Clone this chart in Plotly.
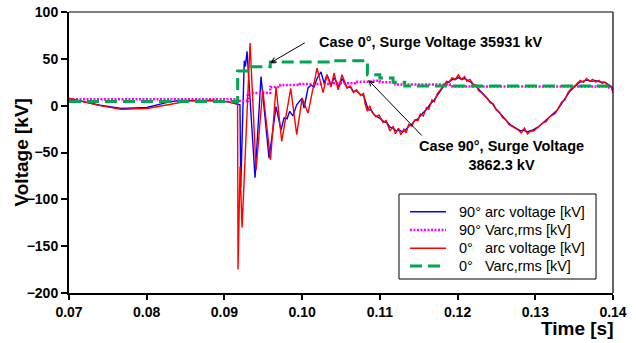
import plotly.graph_objects as go

# ---------------- data ----------------
t_red = [0.0700, 0.0720, 0.0740, 0.0767, 0.0800, 0.0831, 0.0853, 0.0887, 0.0905, 0.0915,
         0.09169, 0.09175, 0.09201, 0.09227, 0.09330, 0.09407, 0.09493, 0.09593, 0.09664,
         0.09737, 0.09853, 0.09930, 0.10000, 0.10076, 0.10192, 0.10269, 0.10320, 0.10372,
         0.10411, 0.10462, 0.10513, 0.10578,
         0.1062, 0.1066, 0.1070, 0.1075, 0.1079, 0.1081, 0.1084, 0.1087, 0.1090, 0.1095,
         0.1099, 0.1104, 0.1108, 0.1113, 0.1117, 0.1120, 0.1124, 0.1127, 0.1131, 0.1134,
         0.1137, 0.1141, 0.1145, 0.1149, 0.1152, 0.1156, 0.1160, 0.1163, 0.1167, 0.1170,
         0.1174, 0.1178, 0.1182, 0.1186, 0.1189, 0.1193, 0.1197, 0.1201, 0.1205, 0.1209,
         0.1212, 0.1216, 0.1220, 0.1224, 0.1227, 0.1231, 0.1235, 0.1238, 0.1242, 0.1246,
         0.1250, 0.1254, 0.1258, 0.1262, 0.1266, 0.1270, 0.1274, 0.1278, 0.1282, 0.1286,
         0.1290, 0.1294, 0.1298, 0.1302, 0.1306, 0.1310, 0.1314, 0.1318, 0.1322, 0.1326,
         0.1330, 0.1334, 0.1338, 0.1342, 0.1346, 0.1350, 0.1354, 0.1358, 0.1362, 0.1366,
         0.1370, 0.1374, 0.1378, 0.1382, 0.1386, 0.1390, 0.1394, 0.1398, 0.1400]
v_red = [8, 4, 0, -4, -3, 1.5, 5, 5.5, 4, 2,
         1.5, -175, -65, -130, 67, -69, 17, -58, 20,
         -38, 18.5, -31, 8, -8, 40, 14, 33, 20,
         35, 17, 33, 19,
         21, 14, 17, 11, 13, 2, -6, 0, -7, -12,
         -10, -18, -16, -27, -22, -30, -24, -31, -25, -29,
         -20, -22, -15, -16, -9, -11, -2, -4, 6, 4,
         13, 17, 21, 26, 25, 30, 28, 33, 28, 31,
         26, 28, 23, 22, 16, 14, 10, 8, 3, 2,
         -5, -7, -13, -15, -20, -22, -24, -26, -29, -24,
         -30, -27, -27, -24, -22, -18, -17, -12, -10, -8,
         -2, 4, 6, 14, 18, 20, 24, 27, 25, 29,
         26, 28, 25, 27, 24, 25, 21, 20, 14]

t_blue = [0.0700, 0.0720, 0.0740, 0.0767, 0.0800, 0.0824, 0.0840, 0.0887, 0.0905, 0.0915,
          0.0920, 0.09210, 0.09255, 0.09270, 0.09291, 0.09394, 0.09471, 0.09574, 0.09664,
          0.09728, 0.09767, 0.09806, 0.09840, 0.09880, 0.09930, 0.09999, 0.10024, 0.10076,
          0.10115, 0.10153, 0.10192, 0.10243, 0.10282, 0.10320, 0.10372, 0.10411, 0.10475,
          0.10513, 0.10578,
          0.1062, 0.1066, 0.1070, 0.1075, 0.1079, 0.1082, 0.1085, 0.1089, 0.1093, 0.1097,
          0.1101, 0.1105, 0.1109, 0.1113, 0.1117, 0.1121, 0.1125, 0.1129, 0.1133, 0.1137,
          0.1141, 0.1145, 0.1149, 0.1153, 0.1157, 0.1161, 0.1165, 0.1169, 0.1173, 0.1177,
          0.1181, 0.1185, 0.1189, 0.1193, 0.1197, 0.1201, 0.1205, 0.1209, 0.1213, 0.1217,
          0.1221, 0.1225, 0.1229, 0.1233, 0.1237, 0.1241, 0.1245, 0.1249, 0.1253, 0.1257,
          0.1261, 0.1265, 0.1269, 0.1273, 0.1277, 0.1281, 0.1285, 0.1289, 0.1293, 0.1297,
          0.1301, 0.1305, 0.1309, 0.1313, 0.1317, 0.1321, 0.1325, 0.1329, 0.1333, 0.1337,
          0.1341, 0.1345, 0.1349, 0.1353, 0.1357, 0.1361, 0.1365, 0.1369, 0.1373, 0.1377,
          0.1381, 0.1385, 0.1389, 0.1393, 0.1397, 0.1400]
v_blue = [7.5, 4, 0.5, -3, -2, 3, 5.5, 5.5, 4, 2,
          1, -87, 48, 42, 58, -77, 31, -56, -1,
          -26, -13, -14, -6, -11, 1, 8, -2.5, 19,
          22, 20, 29, 36, 24, 33, 22, 30, 20,
          29, 19,
          20, 15, 16, 12, 11, 3, -4, -5, -10, -12,
          -14, -17, -18, -23, -24, -27, -26, -28, -26, -22,
          -20, -16, -14, -10, -7, -3, 2, 5, 10, 15,
          20, 24, 25, 28, 28, 30, 28, 29, 27, 25,
          22, 20, 16, 13, 9, 5, 2, -3, -7, -11,
          -15, -18, -21, -23, -25, -27, -26, -28, -27, -26,
          -24, -22, -19, -16, -13, -10, -8, -4, 1, 6,
          11, 16, 19, 22, 25, 26, 27, 27, 26, 27,
          26, 25, 25, 23, 21, 16]

t_rms90 = [0.0700, 0.0920, 0.0930, 0.0959, 0.0972, 0.0997, 0.1036, 0.1068, 0.1090,
           0.1100, 0.1120, 0.1190, 0.1395, 0.1400]
v_rms90 = [6.8, 5, 13.5, 20, 22, 23, 24, 25.5, 26.5,
           25, 22.5, 20.5, 19.5, 16]

t_rms0 = [0.0700, 0.0917, 0.0933, 0.0959, 0.1040, 0.1084, 0.1100, 0.1117, 0.1132, 0.1400]
v_rms0 = [4.5, 37, 41.5, 46.5, 48, 33, 29.5, 25, 21, 20.3]

names = ["90° arc voltage [kV]", "90° Varc,rms [kV]",
         "0°\u00a0\u00a0\u00a0arc voltage [kV]", "0°\u00a0\u00a0\u00a0Varc,rms [kV]"]
colors = ["#0000FF", "#FF00FF", "#FF0000", "#00A650"]
widths = [1.4, 2.5, 1.4, 3]
dashes = ["solid", "2px,1.5px", "solid", "12px,6px"]

x_ticks = [0.07, 0.08, 0.09, 0.10, 0.11, 0.12, 0.13, 0.14]
y_ticks = [-200, -150, -100, -50, 0, 50, 100]

FONT = "Arial, Liberation Sans, Helvetica, sans-serif"

fig = go.Figure()
series = [(t_blue, v_blue, "linear"), (t_rms90, v_rms90, "hv"),
          (t_red, v_red, "linear"), (t_rms0, v_rms0, "hv")]
for (tx, vy, shp), nm, c, w, d in zip(series, names, colors, widths, dashes):
    fig.add_trace(go.Scatter(x=tx, y=vy, mode="lines", name=nm, showlegend=False,
                             line=dict(color=c, width=w, dash=d, shape=shp)))

axis_common = dict(showgrid=False, zeroline=False, showline=True, linecolor="black",
                   linewidth=2, ticks="outside", tickwidth=1.5,
                   tickcolor="black", automargin=False,
                   tickfont=dict(family=FONT, size=14, color="black", weight="bold"))
fig.update_xaxes(range=[0.07, 0.14], tickvals=x_ticks, tickformat=".2f", ticklen=5,
                 **axis_common)
fig.update_yaxes(range=[-200, 100], tickvals=y_ticks, ticklen=6, **axis_common)

fig.update_layout(
    width=636, height=343,
    margin=dict(l=69, r=23, t=12, b=50, autoexpand=False),
    paper_bgcolor="white", plot_bgcolor="white",
    font=dict(family=FONT, color="black"),
    showlegend=False,
)

# top / right frame
fig.add_shape(type="line", xref="paper", yref="paper", x0=0, x1=1, y0=1, y1=1,
              line=dict(color="black", width=1.2))
fig.add_shape(type="line", xref="paper", yref="paper", x0=1, x1=1, y0=0, y1=1,
              line=dict(color="black", width=1.2))

# legend box (drawn in paper coordinates)
fig.add_shape(type="rect", xref="paper", yref="paper", x0=0.6066, x1=0.9688,
              y0=0.0498, y1=0.3523, line=dict(color="black", width=1), fillcolor="white")
row_y = [0.2893, 0.2242, 0.1591, 0.0961]
for ry, nm, c, w, d in zip(row_y, names, colors, widths, dashes):
    fig.add_shape(type="line", xref="paper", yref="paper", x0=0.6268, x1=0.6930,
                  y0=ry, y1=ry, line=dict(color=c, width=w, dash=d))
    fig.add_annotation(text=nm, xref="paper", yref="paper", x=0.7132, y=ry,
                       xanchor="left", yanchor="middle", showarrow=False,
                       font=dict(family=FONT, size=14.5, color="black"))

# axis titles
fig.add_annotation(text="Voltage [kV]", xref="paper", yref="paper", x=-0.0864, y=0.5,
                   textangle=-90, showarrow=False, xanchor="center", yanchor="middle",
                   font=dict(family=FONT, size=19, weight="bold", color="black"))
fig.add_annotation(text="Time [s]", xref="paper", yref="paper", x=1.0055, y=-0.128,
                   showarrow=False, xanchor="right", yanchor="middle",
                   font=dict(family=FONT, size=19, weight="bold", color="black"))

# arrows
fig.add_annotation(x=0.0959, y=45.6, ax=36, ay=-21, text="", showarrow=True,
                   arrowhead=5, arrowsize=1, arrowwidth=1, arrowcolor="black")
fig.add_annotation(x=0.1085, y=27.4, ax=55, ay=57, text="", showarrow=True,
                   arrowhead=5, arrowsize=1, arrowwidth=1, arrowcolor="black")
# annotation texts
fig.add_annotation(x=0.1019, y=68, text="Case 0°, Surge Voltage 35931 kV", showarrow=False,
                   xanchor="left", yanchor="middle",
                   font=dict(family=FONT, size=14.5, weight="bold", color="black"))
fig.add_annotation(x=0.1257, y=-53.7, text="Case 90°, Surge Voltage<br>3862.3 kV",
                   showarrow=False, xanchor="center", yanchor="middle", align="center",
                   font=dict(family=FONT, size=14.5, weight="bold", color="black"))

fig.write_html("out.html", config={"displayModeBar": False},
               post_script="document.body.style.margin='0px';"
                           "document.body.style.overflow='hidden';")
